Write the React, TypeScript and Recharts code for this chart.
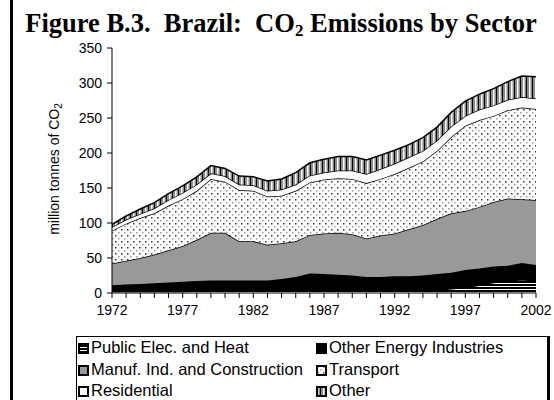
import React from 'react';
import { AreaChart, Area, XAxis, YAxis } from 'recharts';

const years = [
  1972, 1973, 1974, 1975, 1976, 1977, 1978, 1979, 1980, 1981, 1982, 1983, 1984, 1985, 1986, 1987,
  1988, 1989, 1990, 1991, 1992, 1993, 1994, 1995, 1996, 1997, 1998, 1999, 2000, 2001, 2002,
];
const publicElec = [2, 2, 2, 2, 2, 2, 3, 3, 3, 3, 3, 3, 3, 3, 3, 3, 3, 3, 3, 3, 3, 3, 3, 4, 6, 8, 11, 15, 17, 19, 17];
const otherEnergy = [9, 10, 11, 12, 13, 14, 14, 15, 15, 15, 15, 15, 17, 20, 25, 24, 23, 22, 20, 20, 21, 21, 22, 23, 23, 25, 24, 23, 22, 24, 23];
const manufInd = [31, 34, 37, 41, 46, 51, 59, 68, 68, 56, 56, 51, 51, 51, 55, 58, 60, 59, 55, 59, 61, 67, 72, 79, 85, 84, 88, 92, 96, 91, 93];
const transport = [47, 53, 57, 59, 64, 67, 70, 77, 73, 73, 72, 69, 68, 72, 75, 77, 78, 79, 79, 81, 85, 88, 91, 97, 109, 122, 124, 123, 126, 131, 130];
const residential = [5, 6, 6, 7, 8, 9, 9, 8, 8, 8, 8, 8, 9, 9, 10, 10, 11, 12, 13, 14, 15, 15, 15, 15, 15, 14, 15, 15, 15, 15, 15];
const other = [4, 5, 7, 8, 9, 10, 11, 11, 11, 12, 12, 14, 15, 17, 18, 19, 20, 20, 20, 20, 19, 18, 19, 19, 20, 21, 22, 24, 26, 30, 31];

const yTicks = [0, 50, 100, 150, 200, 250, 300, 350];
const labelYears = [1972, 1977, 1982, 1987, 1992, 1997, 2002];

const data = years.map((year, i) => ({
  year,
  publicElec: publicElec[i],
  otherEnergy: otherEnergy[i],
  manufInd: manufInd[i],
  transport: transport[i],
  residential: residential[i],
  other: other[i],
}));

const series = [
  { key: 'publicElec', name: 'Public Elec. and Heat', fill: 'url(#patElec)' },
  { key: 'otherEnergy', name: 'Other Energy Industries', fill: '#000' },
  { key: 'manufInd', name: 'Manuf. Ind. and Construction', fill: '#999' },
  { key: 'transport', name: 'Transport', fill: 'url(#patDots)' },
  { key: 'residential', name: 'Residential', fill: '#fff' },
  { key: 'other', name: 'Other', fill: 'url(#patStripes)' },
];

// legend is laid out in two columns, row by row
const legendRows = [
  ['publicElec', 'otherEnergy'],
  ['manufInd', 'transport'],
  ['residential', 'other'],
];

const sans = '"Liberation Sans", Arial, sans-serif';
const tickStyle = { fontSize: 14, fill: '#000', fontFamily: sans };

const Swatch = ({ fill }: { fill: string }) => (
  <svg width={11} height={11} style={{ display: 'inline-block', verticalAlign: -1, marginRight: 2 }}>
    <rect x={1} y={1} width={9} height={9} fill={fill} stroke="#000" strokeWidth={2} />
  </svg>
);

export default function App() {
  const byKey = Object.fromEntries(series.map((s) => [s.key, s]));
  return (
    <div style={{ position: 'absolute', left: 0, top: 0, width: 554, height: 400, background: '#fff', overflow: 'hidden' }}>
      <div style={{ position: 'absolute', left: 10, top: 0, width: 3, height: 400, background: '#000' }} />
      <div
        style={{
          position: 'absolute', left: 4, top: 8, width: 554, textAlign: 'center', whiteSpace: 'pre',
          fontFamily: '"Liberation Serif", "Times New Roman", serif', fontWeight: 'bold', fontSize: 26.5, lineHeight: '30px',
        }}
      >
        {'Figure B.3.  Brazil:  CO'}
        <span style={{ fontSize: 17, verticalAlign: -4 }}>2</span>
        {' Emissions by Sector'}
      </div>
      <div
        style={{
          position: 'absolute', left: 55, top: 169, transform: 'translate(-50%, -50%) rotate(-90deg)',
          whiteSpace: 'nowrap', fontFamily: sans, fontSize: 14,
        }}
      >
        million tonnes of CO<span style={{ fontSize: 10, verticalAlign: -3 }}>2</span>
      </div>
      <div style={{ position: 'absolute', left: 0, top: 0 }}>
        <AreaChart width={554} height={330} data={data} margin={{ top: 48, right: 18, left: 0, bottom: 0 }}>
          <defs>
            <pattern id="patElec" width={4} height={3} patternUnits="userSpaceOnUse">
              <rect width={4} height={3} fill="#000" />
              <rect y={1} width={4} height={1} fill="#fff" />
            </pattern>
            <pattern id="patDots" width={6} height={6} patternUnits="userSpaceOnUse">
              <rect width={6} height={6} fill="#fff" />
              <rect x={1} y={1} width={1.5} height={1.5} fill="#333" />
              <rect x={4} y={4} width={1.5} height={1.5} fill="#999" />
            </pattern>
            <pattern id="patStripes" width={6} height={6} patternUnits="userSpaceOnUse">
              <rect width={6} height={6} fill="#8c8c8c" />
              <rect x={1} width={1.5} height={6} fill="#fff" />
              <rect x={4} width={1} height={6} fill="#000" />
            </pattern>
          </defs>
          <XAxis
            dataKey="year"
            interval={0}
            tickSize={5}
            tickMargin={7}
            height={37}
            stroke="#000"
            tick={tickStyle}
            tickFormatter={(v) => (labelYears.includes(v) ? String(v) : '')}
          />
          <XAxis xAxisId="top" dataKey="year" orientation="top" height={0} tick={false} tickLine={false} stroke="#000" />
          <YAxis
            domain={[0, 350]}
            ticks={yTicks}
            width={112}
            tickSize={5}
            tickMargin={5}
            stroke="#000"
            tick={tickStyle}
          />
          <YAxis yAxisId="right" orientation="right" domain={[0, 350]} width={0} tick={false} tickLine={false} stroke="#000" />
          {series.map((s) => (
            <Area
              key={s.key}
              type="linear"
              dataKey={s.key}
              name={s.name}
              stackId="1"
              fill={s.fill}
              fillOpacity={1}
              stroke="#000"
              strokeWidth={1.5}
              isAnimationActive={false}
            />
          ))}
        </AreaChart>
      </div>
      <div
        style={{
          position: 'absolute', left: 76, top: 336, width: 470, height: 80,
          border: '1px solid #000', borderRightWidth: 3, fontFamily: sans, fontSize: 16.5, lineHeight: '21.5px',
        }}
      >
        {legendRows.map((row, r) => (
          <div key={r} style={{ position: 'relative', height: 21.5 }}>
            {row.map((k, c) => (
              <span key={k} style={{ position: 'absolute', left: c === 0 ? 1 : 239, whiteSpace: 'nowrap' }}>
                <Swatch fill={byKey[k].fill} />
                {byKey[k].name}
              </span>
            ))}
          </div>
        ))}
      </div>
    </div>
  );
}
